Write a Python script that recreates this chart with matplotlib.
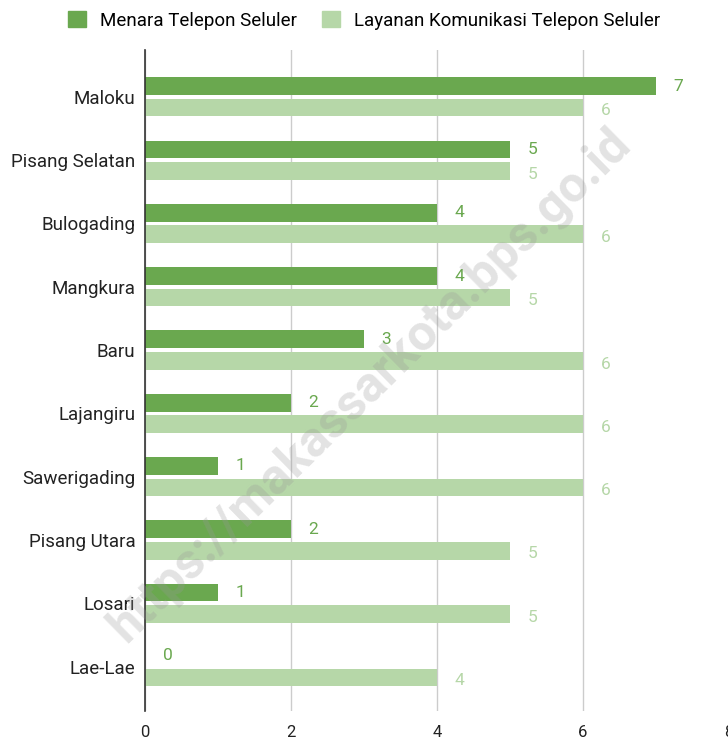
import matplotlib.pyplot as plt
from matplotlib.patches import Patch

# data
categories = ["Maloku", "Pisang Selatan", "Bulogading", "Mangkura", "Baru",
              "Lajangiru", "Sawerigading", "Pisang Utara", "Losari", "Lae-Lae"]
menara = [7, 5, 4, 4, 3, 2, 1, 2, 1, 0]
layanan = [6, 5, 6, 5, 6, 6, 6, 5, 5, 4]
series_names = ["Menara Telepon Seluler", "Layanan Komunikasi Telepon Seluler"]
x_ticks = [0, 2, 4, 6, 8]

dark = "#6aa84f"
light = "#b6d7a8"

plt.rcParams['font.family'] = ['Roboto', 'DejaVu Sans']

fig = plt.figure(figsize=(7.28, 7.41), dpi=100)
ax = fig.add_axes([145 / 728, 1 - 711 / 741, (729 - 145) / 728, (711 - 50) / 741])

pos = list(range(len(categories)))
h = 0.28
off = 0.17
ax.barh([p - off for p in pos], menara, height=h, color=dark, zorder=2)
ax.barh([p + off for p in pos], layanan, height=h, color=light, zorder=2)

for p, v in zip(pos, menara):
    ax.text(v + 0.24, p - off, str(v), color=dark, fontsize=12.5,
            va='center', ha='left')
for p, v in zip(pos, layanan):
    ax.text(v + 0.24, p + off + 0.05, str(v), color=light, fontsize=12.5,
            va='center', ha='left')

ax.set_xlim(0, 8)
ax.set_ylim(9.7, -0.74)
ax.set_yticks(pos)
ax.set_yticklabels(categories, fontsize=13.5, color="#222222")
ax.set_xticks(x_ticks)
ax.set_xticklabels([str(t) for t in x_ticks], fontsize=12, color="#222222")
ax.tick_params(length=0, pad=7)
ax.tick_params(axis='x', pad=10)

ax.grid(axis='x', color="#cccccc", linewidth=1, zorder=0)
for s in ['top', 'right', 'bottom']:
    ax.spines[s].set_visible(False)
ax.spines['left'].set_color("#333333")
ax.spines['left'].set_linewidth(1.2)
ax.spines['left'].set_zorder(3)

# watermark
fig.text(0.508, 0.48, "https://makassarkota.bps.go.id", fontsize=36,
         fontweight='bold', color="#999999", alpha=0.28, rotation=44.5,
         ha='center', va='center', zorder=10)

handles = [Patch(color=dark, label=series_names[0]),
           Patch(color=light, label=series_names[1])]
fig.legend(handles=handles, loc='upper center', bbox_to_anchor=(0.5, 1.008),
           ncol=2, frameon=False, fontsize=13.5, handlelength=0.96,
           handleheight=0.96, columnspacing=1.33, handletextpad=0.75)

fig.savefig("out.png", dpi=100)
